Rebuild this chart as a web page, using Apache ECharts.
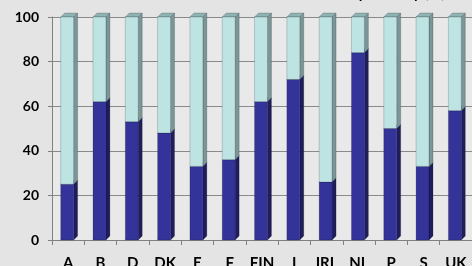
<!DOCTYPE html>
<html><head><meta charset="utf-8">
<script src="https://cdn.jsdelivr.net/npm/echarts@6/dist/echarts.min.js"></script>
<style>html,body{margin:0;padding:0;background:#e4e4e4;}#c{width:472px;height:266px;}</style>
</head><body><div id="c"></div>
<script>
const categories = ['A','B','D','DK','E','F','FIN','I','IRL','NL','P','S','UK'];
const lowerValues = [25, 62, 53, 48, 33, 36, 62, 72, 26, 84, 50, 33, 58];
const upperValues = [75, 38, 47, 52, 67, 64, 38, 28, 74, 16, 50, 67, 42];
const yTicks = [0, 20, 40, 60, 80, 100];

const chart = echarts.init(document.getElementById('c'));
const DX = 4, DY = 4;

function make3D(front, side, top, baseArr) {
  return function (params, api) {
    const i = api.value(0);
    const v = api.value(1);
    const base = baseArr ? baseArr[i] : 0;
    const p0 = api.coord([i, base]);
    const p1 = api.coord([i, base + v]);
    const bw = api.size([1, 0])[0] * 0.4;
    const x0 = p0[0] - bw / 2 - 1, x1 = x0 + bw;
    const yb = p0[1], yt = p1[1];
    return {
      type: 'group',
      children: [
        { type: 'polygon', shape: { points: [[x1, yb], [x1 + DX, yb - DY], [x1 + DX, yt - DY], [x1, yt]] },
          style: { fill: side, stroke: 'rgba(0,0,0,0.35)', lineWidth: 0.5 } },
        { type: 'polygon', shape: { points: [[x0, yt], [x0 + DX, yt - DY], [x1 + DX, yt - DY], [x1, yt]] },
          style: { fill: top, stroke: 'rgba(0,0,0,0.35)', lineWidth: 0.5 } },
        { type: 'rect', shape: { x: x0, y: yt, width: bw, height: yb - yt },
          style: { fill: front, stroke: 'rgba(0,0,0,0.35)', lineWidth: 0.5 } }
      ]
    };
  };
}

chart.setOption({
  backgroundColor: '#e4e4e4',
  animation: false,
  title: {
    text: 'Distribution by country (%)',
    right: 22, top: -19,
    textStyle: { fontFamily: 'Lato', fontWeight: 'bold', fontSize: 15, color: '#000' }
  },
  grid: { left: 52, right: 0, top: 17, bottom: 26, show: true, backgroundColor: '#e9e9e9', borderWidth: 0,
    containLabel: false, outerBoundsMode: 'none' },
  xAxis: {
    type: 'category', data: categories,
    axisLine: { show: true, lineStyle: { color: '#808080', width: 1 } },
    axisTick: { show: true, length: 5, lineStyle: { color: '#808080' } },
    axisLabel: { margin: 16, fontFamily: 'Lato', fontWeight: 'bold', fontSize: 15, color: '#000' }
  },
  yAxis: {
    type: 'value', min: 0, max: 100, interval: 20,
    axisLine: { show: true, lineStyle: { color: '#808080' } },
    axisTick: { show: true, length: 4, lineStyle: { color: '#808080' } },
    axisLabel: { margin: 13, fontFamily: 'Lato', fontWeight: 'bold', fontSize: 14, color: '#000',
      formatter: v => yTicks.includes(v) ? String(v) : '' },
    splitLine: { show: true, lineStyle: { color: '#8a8a8a', width: 1 } }
  },
  series: [
    { type: 'custom', renderItem: make3D('#333399', '#1e1e5e', '#4a4aa8', null),
      data: lowerValues.map((v, i) => [i, v]), encode: { x: 0, y: 1 } },
    { type: 'custom', renderItem: make3D('#bde3e3', '#7a9696', '#8fb3b3', lowerValues),
      data: upperValues.map((v, i) => [i, v]), encode: { x: 0, y: 1 }, z: 3 }
  ]
});
</script></body></html>
